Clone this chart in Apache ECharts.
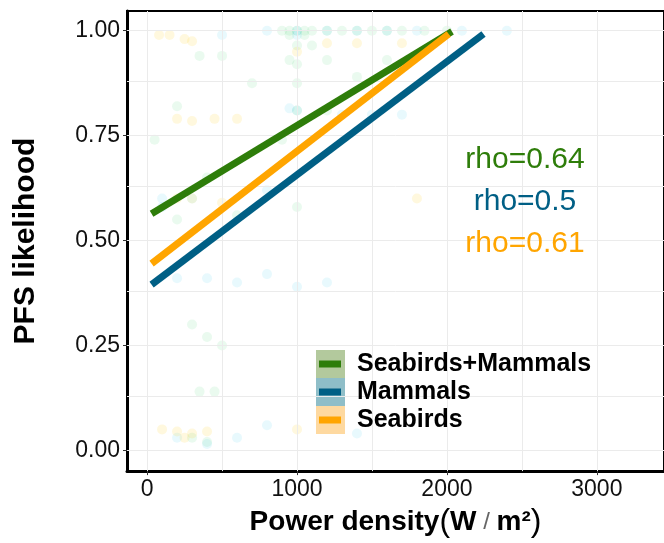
<!DOCTYPE html>
<html>
<head>
<meta charset="utf-8">
<script src="https://cdn.jsdelivr.net/npm/echarts@6/dist/echarts.min.js"></script>
<style>html,body{margin:0;padding:0;background:#fff}#c{width:664px;height:543px}</style>
</head>
<body>
<div id="c"></div>
<script>
// ---- data ----
const seriesNames = ['Seabirds+Mammals', 'Mammals', 'Seabirds'];
const rhoLabels = ['rho=0.64', 'rho=0.5', 'rho=0.61'];
const fitBoth = [[30, 0.564], [2034, 0.998]];
const fitMammals = [[30, 0.395], [2244, 0.992]];
const fitSeabirds = [[30, 0.445], [2012, 0.992]];
const ptsBoth = [[900,1.0],[950,1.0],[1000,1.0],[1050,1.0],[1100,1.0],[1200,1.0],[1300,1.0],[1400,1.0],[1500,1.0],[1600,1.0],[1700,1.0],[1850,1.0],[2000,1.0],[950,0.99],[1050,0.99],[1000,0.965],[1100,0.965],[950,0.93],[1000,0.92],[1200,0.93],[1600,0.93],[350,0.94],[500,0.94],[1000,0.875],[700,0.875],[1400,0.89],[200,0.82],[1000,0.81],[1200,0.81],[900,0.74],[50,0.74],[400,0.65],[1000,0.58],[600,0.56],[200,0.55],[300,0.3],[400,0.27],[500,0.25],[350,0.14],[450,0.14],[300,0.03],[400,0.02]];
const ptsMammals = [[800,1.0],[1000,1.0],[1200,1.0],[1400,1.0],[1600,1.0],[1800,1.0],[2100,1.0],[2400,1.0],[1000,0.99],[500,0.99],[950,0.815],[1000,0.81],[1300,0.8],[1500,0.8],[1700,0.8],[800,0.62],[100,0.6],[300,0.6],[100,0.58],[200,0.41],[400,0.41],[600,0.4],[800,0.42],[1000,0.39],[1200,0.4],[800,0.06],[400,0.015],[200,0.03],[600,0.03],[1400,0.04]];
const ptsSeabirds = [[80,0.99],[150,0.99],[250,0.98],[300,0.975],[1200,0.97],[1400,0.97],[1700,0.97],[1000,0.95],[200,0.79],[300,0.785],[450,0.79],[600,0.79],[200,0.6],[300,0.6],[500,0.59],[1800,0.6],[100,0.05],[200,0.045],[300,0.04],[400,0.045],[250,0.03],[1000,0.05]];
const xTicks = [0, 1000, 2000, 3000];
const xMinor = [500, 1500, 2500];
const yTicks = [0, 0.25, 0.5, 0.75, 1.0];
const yMinor = [0.125, 0.375, 0.625, 0.875];

// ---- style ----
const C = ['#2e7d0a', '#005f85', '#ffa500'];
const CP = ['#33cc66', '#22c4ea', '#ffd21f'];
const CBox = ['#b3c99d', '#8fbec8', '#fed9a0'];
const FONT = 'Liberation Sans, Arial, sans-serif';

const chart = echarts.init(document.getElementById('c'), null, {renderer: 'canvas'});

const gridLines = [];
xTicks.concat(xMinor).forEach(v => gridLines.push({xAxis: v}));
yTicks.concat(yMinor).forEach(v => gridLines.push({yAxis: v}));

function ptsSeries(name, data, color, op) {
  return {
    name: name, type: 'scatter', data: data, symbolSize: 10, silent: true, z: 2,
    itemStyle: {color: color, opacity: op}
  };
}
function fitSeries(name, data, color, z) {
  return {
    name: name, type: 'line', data: data, showSymbol: false, symbol: 'none', silent: true, z: z,
    itemStyle: {color: color},
    lineStyle: {color: color, width: 7, cap: 'butt'}
  };
}

chart.setOption({
  animation: false,
  backgroundColor: '#fff',
  grid: {left: 127, right: -5, top: 11, bottom: 66, show: true, borderColor: '#000', borderWidth: 2, backgroundColor: '#fff'},
  xAxis: {
    type: 'value', min: -134, max: 3448,
    name: '{a|Power density}{p|(}{a|W}{t| / }{a|m²}{p|)}',
    nameLocation: 'middle', nameGap: 33,
    nameTextStyle: {rich: {
      a: {fontFamily: FONT, fontSize: 28, fontWeight: 'bold', color: '#000'},
      p: {fontFamily: FONT, fontSize: 32, fontWeight: 'normal', color: '#000'},
      t: {fontFamily: FONT, fontSize: 24, fontWeight: 'normal', color: '#666'}
    }},
    axisLine: {show: true, onZero: false, lineStyle: {color: '#000', width: 3}},
    axisTick: {show: true, length: 4, customValues: xTicks, lineStyle: {color: '#333'}},
    axisLabel: {customValues: xTicks, margin: 7, fontFamily: FONT, fontSize: 23, color: '#111',
      formatter: v => String(v)},
    splitLine: {show: false}
  },
  yAxis: {
    type: 'value', min: -0.0494, max: 1.047,
    name: 'PFS likelihood', nameLocation: 'middle', nameRotate: 90, nameGap: 86,
    nameTextStyle: {fontFamily: FONT, fontSize: 30, fontWeight: 'bold', color: '#000'},
    axisLine: {show: true, onZero: false, lineStyle: {color: '#000', width: 3}},
    axisTick: {show: true, length: 4, customValues: yTicks, lineStyle: {color: '#333'}},
    axisLabel: {customValues: yTicks, margin: 7, fontFamily: FONT, fontSize: 23, color: '#111',
      formatter: v => v.toFixed(2)},
    splitLine: {show: false}
  },
  legend: {
    data: seriesNames, orient: 'vertical', left: 319, top: 350, padding: 0, z: 10,
    itemGap: 0, itemWidth: 22, itemHeight: 7, icon: 'rect',
    itemStyle: {borderWidth: 0},
    textStyle: {fontFamily: FONT, fontSize: 25, fontWeight: 'bold', color: '#000', lineHeight: 28, padding: [0, 0, 0, 11]}
  },
  graphic: [
    {type: 'rect', left: 316, top: 350, shape: {width: 29, height: 28}, style: {fill: CBox[0]}, z: 3, silent: true},
    {type: 'rect', left: 316, top: 378, shape: {width: 29, height: 28}, style: {fill: CBox[1]}, z: 3, silent: true},
    {type: 'rect', left: 316, top: 406, shape: {width: 29, height: 28}, style: {fill: CBox[2]}, z: 3, silent: true},
    {type: 'text', style: {text: rhoLabels[0], fill: C[0], font: '30px ' + FONT, textAlign: 'center', textVerticalAlign: 'middle', x: 525, y: 160}, z: 60},
    {type: 'text', style: {text: rhoLabels[1], fill: C[1], font: '30px ' + FONT, textAlign: 'center', textVerticalAlign: 'middle', x: 525, y: 202}, z: 60},
    {type: 'text', style: {text: rhoLabels[2], fill: C[2], font: '30px ' + FONT, textAlign: 'center', textVerticalAlign: 'middle', x: 525, y: 244}, z: 60}
  ],
  series: [
    {
      name: 'grid', type: 'line', data: [], silent: true, z: 1,
      markLine: {silent: true, symbol: 'none', label: {show: false},
        lineStyle: {color: '#ebebeb', width: 1, type: 'solid'}, data: gridLines}
    },
    ptsSeries('p1', ptsBoth, CP[0], 0.1),
    ptsSeries('p2', ptsMammals, CP[1], 0.1),
    ptsSeries('p3', ptsSeabirds, CP[2], 0.15),
    fitSeries(seriesNames[0], fitBoth, C[0], 5),
    fitSeries(seriesNames[1], fitMammals, C[1], 6),
    fitSeries(seriesNames[2], fitSeabirds, C[2], 7)
  ]
});
</script>
</body>
</html>
